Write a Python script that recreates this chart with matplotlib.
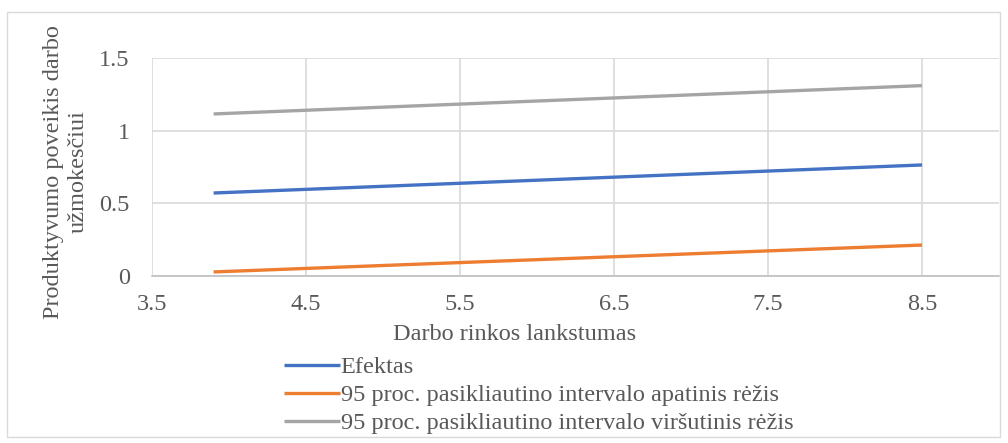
import matplotlib.pyplot as plt
from matplotlib.patches import Rectangle

# effect of productivity on wages vs labour market flexibility
flex = [3.9, 8.5]
effect = [0.571, 0.764]
lower = [0.028, 0.213]
upper = [1.115, 1.31]

labels = [
    "Efektas",
    "95 proc. pasikliautino intervalo apatinis rėžis",
    "95 proc. pasikliautino intervalo viršutinis rėžis",
]
colors = ["#4472C4", "#ED7D31", "#A5A5A5"]
x_ticks = [3.5, 4.5, 5.5, 6.5, 7.5, 8.5]
y_ticks = [0, 0.5, 1, 1.5]

plt.rcParams["font.family"] = ["Liberation Serif", "DejaVu Serif"]
text_color = "#595959"
fs = 17.5

fig = plt.figure(figsize=(10.08, 4.43), dpi=100)
fig.patches.append(Rectangle((7 / 1008, 6 / 443), 993 / 1008, 425 / 443,
                             transform=fig.transFigure, fill=False,
                             edgecolor="#d9d9d9", linewidth=1))

ax = fig.add_axes([152 / 1008, 1 - 276 / 443, 847 / 1008, 218 / 443])
for ys, lab, col in zip([effect, lower, upper], labels, colors):
    ax.plot(flex, ys, color=col, linewidth=2.4, label=lab, solid_capstyle="butt")

ax.set_xlim(3.5, 9.0)
ax.set_ylim(0, 1.5)
ax.set_xticks(x_ticks)
ax.set_xticklabels([f"{v:g}" for v in x_ticks])
ax.set_yticks(y_ticks)
ax.set_yticklabels([f"{v:g}" for v in y_ticks])
ax.grid(True, color="#d9d9d9", linewidth=1.2)
ax.set_axisbelow(True)
for side in ["top", "right", "left"]:
    ax.spines[side].set_visible(False)
ax.spines["bottom"].set_color("#bfbfbf")
ax.spines["bottom"].set_linewidth(1.2)
ax.tick_params(length=0, labelsize=fs, colors=text_color)
ax.tick_params(axis="x", pad=13)
ax.tick_params(axis="y", pad=16)

ax.set_xlabel("Darbo rinkos lankstumas", fontsize=fs, color=text_color)
ax.xaxis.set_label_coords((515 - 152) / 847, -(335 - 276) / 218)
ax.xaxis.label.set_va("center")
ax.set_ylabel("Produktyvumo poveikis darbo\nužmokesčiui", fontsize=fs,
              color=text_color, linespacing=1.25)
ax.yaxis.set_label_coords((66 - 152) / 847, (276 - 172) / 218)
ax.yaxis.label.set_va("center")

leg = fig.legend(loc="upper left", bbox_to_anchor=(272 / 1008, 1 - 344 / 443),
                 frameon=False, fontsize=fs, handlelength=2.3, handletextpad=0.02,
                 labelspacing=0.25, borderpad=0)
for t in leg.get_texts():
    t.set_color(text_color)

fig.savefig("out.png", dpi=100)
